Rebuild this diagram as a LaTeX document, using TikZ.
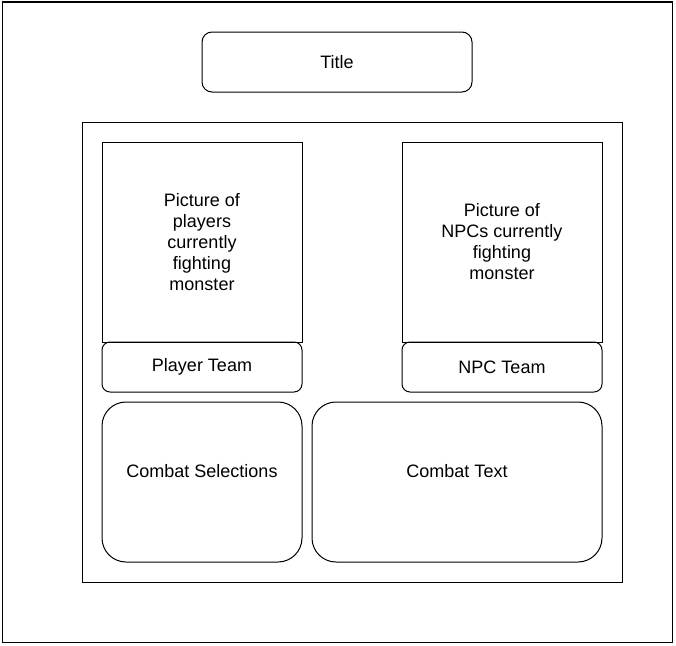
\documentclass[tikz,border=0pt]{standalone}
\usepackage{fontspec}
\setmainfont{Liberation Sans}
\begin{document}
\begin{tikzpicture}[x=0.75pt,y=-0.75pt,
    every node/.style={font=\fontsize{13.5}{15.75}\selectfont, align=center},
    box/.style={draw, line width=0.75pt, inner sep=0pt, outer sep=0pt},
    panel/.style={box, rounded corners=6pt},
    bigpanel/.style={box, rounded corners=18pt}]
      \useasboundingbox (0,0) rectangle (676,646);
      % frames
      \node[box, minimum width=502.5pt, minimum height=480pt] (page) at (337,322) {};
      \node[box, minimum width=405pt, minimum height=345pt] (screen) at (352,352) {};
      \node[panel, rounded corners=7.5pt, minimum width=202.5pt, minimum height=45pt] (title) at (337,62) {Title};
      % team pictures
      \node[box, minimum width=150pt, minimum height=150pt] (picplayers) at (202,242) {Picture of\\players\\currently\\fighting\\monster};
      \node[box, minimum width=150pt, minimum height=150pt] (picnpcs) at (502,242) {Picture of\\NPCs currently\\fighting\\monster};
      \node[panel, minimum width=150pt, minimum height=37.5pt] (playerteam) at (202,367) {Player Team};
      \node[panel, minimum width=150pt, minimum height=37.5pt] (npcteam) at (502,367) {NPC Team};
      % combat
      \node[bigpanel, minimum width=150pt, minimum height=120pt] (selections) at (202,482) {};
      \node[bigpanel, minimum width=217.5pt, minimum height=120pt] (combattext) at (457,482) {};
      \node (selectionslabel) at (202,471) {Combat Selections};
      \node (combattextlabel) at (457,471) {Combat Text};
\end{tikzpicture}
\end{document}
